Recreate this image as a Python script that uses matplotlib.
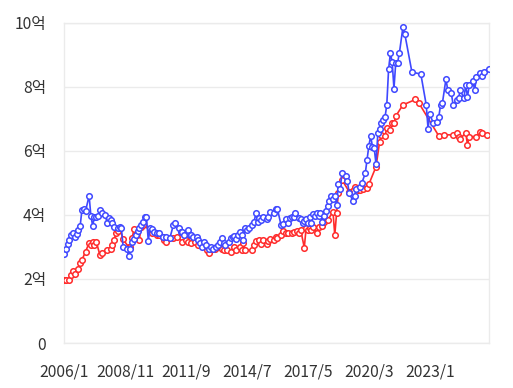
import matplotlib
matplotlib.use("Agg")
import matplotlib.pyplot as plt

plt.rcParams['font.family'] = ['Noto Sans CJK KR', 'DejaVu Sans']

# x categories: monthly, 2006/1 .. 2025/10
start_year, end_year, end_month = 2006, 2025, 10
categories = [f"{y}/{m}" for y in range(start_year, end_year + 1) for m in range(1, 13)
              if not (y == end_year and m > end_month)]
tick_labels = ["2006/1", "2008/11", "2011/9", "2014/7", "2017/5", "2020/3", "2023/1"]

y_ticks = [0, 2, 4, 6, 8, 10]
y_tick_labels = ["0", "2억", "4억", "6억", "8억", "10억"]

blue_dates = ["2006/1", "2006/2", "2006/3", "2006/4", "2006/5", "2006/6", "2006/7", "2006/8", "2006/9", "2006/10",
              "2006/11", "2006/12", "2007/1", "2007/3", "2007/4", "2007/5", "2007/6", "2007/7", "2007/8", "2007/9",
              "2007/10", "2007/12", "2008/1", "2008/2", "2008/3", "2008/4", "2008/5", "2008/7", "2008/8", "2008/9",
              "2008/10", "2008/12", "2009/1", "2009/2", "2009/3", "2009/4", "2009/5", "2009/6", "2009/7", "2009/8",
              "2009/9", "2009/10", "2009/11", "2009/12", "2010/1", "2010/2", "2010/3", "2010/5", "2010/6", "2010/8",
              "2010/10", "2010/12", "2011/2", "2011/3", "2011/5", "2011/6", "2011/7", "2011/8", "2011/10", "2011/11",
              "2011/12", "2012/1", "2012/3", "2012/4", "2012/5", "2012/6", "2012/7", "2012/8", "2012/10", "2012/11",
              "2012/12", "2013/2", "2013/3", "2013/4", "2013/5", "2013/6", "2013/7", "2013/9", "2013/10", "2013/11",
              "2013/12", "2014/1", "2014/2", "2014/3", "2014/4", "2014/5", "2014/6", "2014/7", "2014/8", "2014/10",
              "2014/11", "2014/12", "2015/1", "2015/2", "2015/3", "2015/4", "2015/6", "2015/7", "2015/8", "2015/10",
              "2015/11", "2015/12", "2016/2", "2016/3", "2016/5", "2016/6", "2016/7", "2016/8", "2016/9", "2016/10",
              "2016/12", "2017/1", "2017/2", "2017/3", "2017/4", "2017/5", "2017/6", "2017/7", "2017/8", "2017/9",
              "2017/10", "2017/11", "2017/12", "2018/1", "2018/2", "2018/3", "2018/4", "2018/5", "2018/6", "2018/7",
              "2018/8", "2018/9", "2018/10", "2018/11", "2018/12", "2019/2", "2019/3", "2019/4", "2019/6", "2019/7",
              "2019/8", "2019/10", "2019/11", "2020/1", "2020/2", "2020/3", "2020/4", "2020/5", "2020/6", "2020/7",
              "2020/8", "2020/9", "2020/10", "2020/11", "2020/12", "2021/1", "2021/2", "2021/3", "2021/4", "2021/5",
              "2021/6", "2021/7", "2021/8", "2021/10", "2021/11", "2022/3", "2022/8", "2022/11", "2022/12", "2023/1",
              "2023/3", "2023/5", "2023/6", "2023/7", "2023/8", "2023/10", "2023/11", "2024/1", "2024/2", "2024/4",
              "2024/5", "2024/6", "2024/8", "2024/9", "2024/10", "2024/11", "2025/1", "2025/2", "2025/3", "2025/5",
              "2025/6", "2025/7", "2025/10"]
blue_values = [2.77, 2.95, 3.10, 3.22, 3.37, 3.44, 3.32, 3.40, 3.53, 3.65,
               4.16, 4.19, 4.12, 4.60, 3.97, 3.66, 3.95, 3.93, 3.98, 4.16,
               4.07, 4.00, 3.76, 3.90, 3.84, 3.74, 3.63, 3.58, 3.63, 3.58,
               3.00, 2.95, 2.72, 2.95, 3.17, 3.24, 3.37, 3.50, 3.58, 3.69,
               3.79, 3.93, 3.93, 3.20, 3.58, 3.55, 3.48, 3.43, 3.43, 3.32,
               3.32, 3.27, 3.69, 3.74, 3.58, 3.48, 3.48, 3.37, 3.53, 3.37,
               3.37, 3.32, 3.32, 3.22, 3.11, 3.00, 3.17, 3.06, 2.95, 3.00,
               2.95, 3.00, 3.06, 3.17, 3.27, 3.11, 3.06, 3.17, 3.27, 3.32,
               3.34, 3.24, 3.37, 3.48, 3.37, 3.22, 3.58, 3.53, 3.58, 3.69,
               3.79, 4.05, 3.79, 3.90, 3.84, 3.93, 3.87, 3.95, 4.10, 4.07,
               4.18, 4.20, 3.69, 3.71, 3.87, 3.76, 3.90, 3.93, 3.95, 4.05,
               3.90, 3.87, 3.74, 3.82, 3.87, 3.74, 3.95, 3.76, 4.03, 3.97,
               4.05, 3.97, 4.05, 3.78, 3.97, 4.14, 4.28, 4.45, 4.59, 4.49,
               4.59, 4.31, 4.97, 4.80, 5.32, 5.22, 5.05, 4.70, 4.45, 4.60,
               4.80, 4.89, 4.99, 5.30, 5.72, 6.16, 6.47, 6.14, 6.08, 5.59,
               6.55, 6.70, 6.86, 6.97, 7.05, 7.44, 8.55, 9.05, 8.79, 7.95,
               8.76, 8.76, 9.05, 9.87, 9.67, 8.47, 8.40, 7.44, 6.70, 7.15,
               6.86, 6.90, 7.07, 7.44, 7.49, 8.25, 7.90, 7.80, 7.44, 7.60,
               7.65, 7.90, 7.65, 8.05, 7.70, 8.05, 8.20, 7.90, 8.32, 8.43,
               8.35, 8.48, 8.57]

red_dates = ["2006/1", "2006/2", "2006/4", "2006/5", "2006/6", "2006/7", "2006/9", "2006/10", "2006/11", "2007/1",
             "2007/3", "2007/4", "2007/5", "2007/6", "2007/7", "2007/9", "2007/10", "2008/1", "2008/3", "2008/4",
             "2008/5", "2008/6", "2008/7", "2008/8", "2008/10", "2009/1", "2009/2", "2009/3", "2009/4", "2009/7",
             "2009/8", "2009/9", "2010/1", "2010/2", "2010/5", "2010/6", "2010/8", "2010/9", "2010/10", "2011/2",
             "2011/4", "2011/7", "2011/9", "2011/10", "2011/12", "2012/2", "2012/4", "2012/9", "2012/10", "2012/11",
             "2013/1", "2013/3", "2013/5", "2013/6", "2013/8", "2013/10", "2013/12", "2014/1", "2014/3", "2014/4",
             "2014/5", "2014/6", "2014/10", "2014/11", "2014/12", "2015/2", "2015/3", "2015/4", "2015/6", "2015/7",
             "2015/8", "2015/10", "2015/11", "2015/12", "2016/2", "2016/3", "2016/5", "2016/6", "2016/8", "2016/9",
             "2016/11", "2016/12", "2017/1", "2017/3", "2017/4", "2017/5", "2017/6", "2017/7", "2017/8", "2017/10",
             "2017/11", "2018/1", "2018/2", "2018/4", "2018/7", "2018/8", "2018/9", "2018/10", "2018/12", "2019/4",
             "2019/7", "2019/9", "2019/10", "2019/12", "2020/2", "2020/3", "2020/7", "2020/9", "2020/10", "2020/12",
             "2021/1", "2021/3", "2021/4", "2021/5", "2021/6", "2021/10", "2022/5", "2022/7", "2023/6", "2023/9",
             "2024/2", "2024/4", "2024/5", "2024/6", "2024/9", "2024/10", "2024/11", "2025/3", "2025/5", "2025/6",
             "2025/9"]
red_values = [1.97, 1.97, 1.97, 2.13, 2.25, 2.15, 2.30, 2.49, 2.60, 2.85,
              3.13, 3.06, 3.17, 3.06, 3.17, 2.75, 2.80, 2.90, 2.95, 3.06,
              3.22, 3.45, 3.51, 3.58, 3.24, 3.00, 3.00, 3.27, 3.55, 3.22,
              3.63, 3.69, 3.53, 3.43, 3.37, 3.37, 3.32, 3.22, 3.17, 3.27,
              3.32, 3.17, 3.22, 3.17, 3.11, 3.17, 3.06, 2.90, 2.82, 2.95,
              2.95, 3.00, 2.95, 2.90, 2.90, 2.85, 3.00, 2.90, 3.00, 2.90,
              3.11, 2.90, 2.90, 3.06, 3.19, 3.22, 3.08, 3.22, 3.08, 3.19,
              3.24, 3.22, 3.32, 3.27, 3.37, 3.51, 3.45, 3.43, 3.45, 3.47,
              3.51, 3.45, 3.53, 2.98, 3.58, 3.53, 3.58, 3.53, 3.63, 3.45,
              3.63, 3.66, 3.79, 3.84, 4.10, 3.37, 4.05, 4.68, 5.10, 4.73,
              4.89, 4.78, 4.77, 4.80, 4.85, 4.96, 5.51, 6.29, 6.50, 6.47,
              6.71, 6.66, 6.86, 6.86, 7.09, 7.44, 7.61, 7.49, 6.47, 6.51,
              6.50, 6.57, 6.45, 6.38, 6.57, 6.20, 6.45, 6.45, 6.60, 6.55,
              6.50]

BLUE = "#3f48ff"
RED = "#ff2b2b"

fig = plt.figure(figsize=(5.13, 3.88), dpi=100)
ax = fig.add_axes([64 / 513, 45 / 388, 425 / 513, 320 / 388])

idx = {c: i for i, c in enumerate(categories)}
for dates, vals, col in [(red_dates, red_values, RED), (blue_dates, blue_values, BLUE)]:
    xs = [idx[d] for d in dates]
    ax.plot(xs, vals, color=col, lw=1.2, marker="o", ms=4.0, mfc="white",
            mec=col, mew=1.1, zorder=3)

ax.set_xlim(0, len(categories) - 1)
ax.set_ylim(0, 10)
ax.set_yticks(y_ticks)
ax.set_yticklabels(y_tick_labels)
ax.set_xticks([idx[t] for t in tick_labels])
ax.set_xticklabels(tick_labels)

ax.grid(axis="y", color="#ebebeb", lw=1)
ax.set_axisbelow(True)
for s in ["left", "right", "top", "bottom"]:
    ax.spines[s].set_color("#ebebeb")
    ax.spines[s].set_linewidth(1)
ax.tick_params(axis="both", length=0, labelsize=11.3, colors="#333333")
ax.tick_params(axis="y", pad=13)
ax.tick_params(axis="x", pad=15)

fig.savefig("out.png", dpi=100, facecolor="white")
